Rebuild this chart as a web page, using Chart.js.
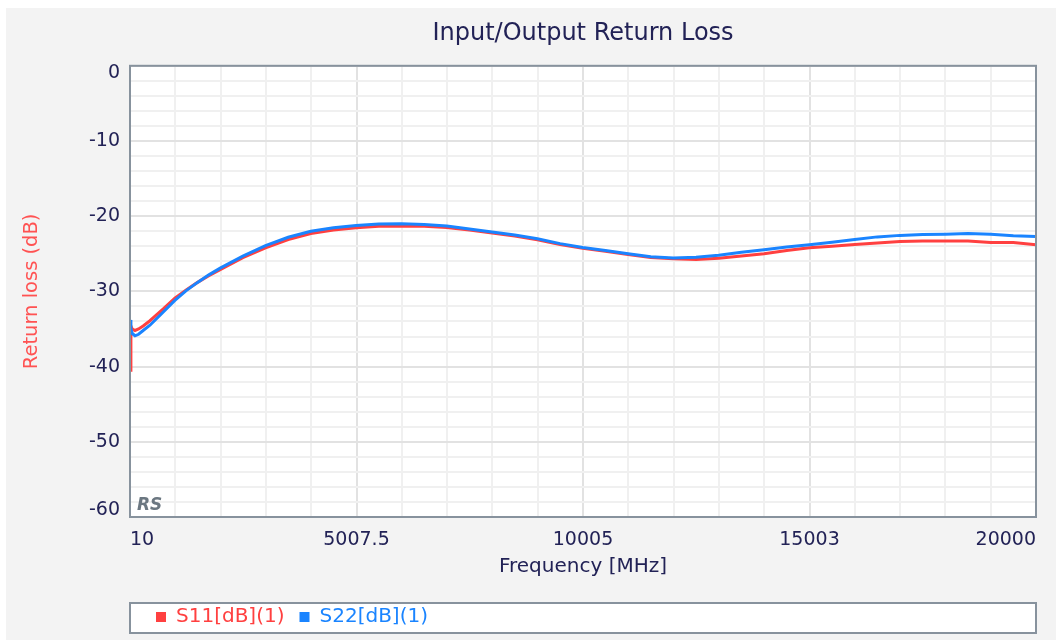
<!DOCTYPE html>
<html><head><meta charset="utf-8">
<script src="https://cdn.jsdelivr.net/npm/chart.js@4/dist/chart.umd.min.js"></script>
<style>
html,body{margin:0;padding:0;background:#ffffff;}
#wrap{width:1056px;height:640px;position:relative;}
</style></head><body>
<div id="wrap"><canvas id="c"></canvas></div>
<script>
const frequencies = [10, 30, 60, 120, 200, 300, 450, 600, 750, 1000, 1250, 1500, 1750, 2000, 2500, 3000, 3500, 4000, 4500, 5000, 5500, 6000, 6500, 7000, 7500, 8000, 8500, 9000, 9500, 10000, 10500, 11000, 11500, 12000, 12500, 13000, 13500, 14000, 14500, 15000, 15500, 16000, 16500, 17000, 17500, 18000, 18500, 19000, 19500, 20000];
const s11 = [-40.5, -34.6, -35.0, -35.2, -35.0, -34.6, -33.9, -33.1, -32.3, -30.9, -29.8, -28.8, -27.9, -27.1, -25.5, -24.2, -23.1, -22.3, -21.85, -21.55, -21.35, -21.3, -21.35, -21.5, -21.85, -22.25, -22.65, -23.15, -23.75, -24.25, -24.65, -25.1, -25.5, -25.65, -25.75, -25.6, -25.3, -25.0, -24.55, -24.2, -24.0, -23.75, -23.55, -23.35, -23.3, -23.3, -23.3, -23.5, -23.5, -23.8];
const s22 = [-33.8, -35.0, -35.6, -35.9, -35.7, -35.2, -34.5, -33.6, -32.7, -31.2, -29.9, -28.8, -27.8, -26.9, -25.3, -23.9, -22.8, -22.0, -21.55, -21.25, -21.05, -21.0, -21.1, -21.3, -21.7, -22.1, -22.5, -23.0, -23.65, -24.15, -24.55, -25.0, -25.4, -25.55, -25.45, -25.2, -24.8, -24.45, -24.1, -23.8, -23.45, -23.1, -22.75, -22.55, -22.45, -22.4, -22.3, -22.4, -22.6, -22.7];
const seriesNames = ['S11[dB](1)', 'S22[dB](1)'];
const xMajorTicks = [10, 5007.5, 10005, 15002.5, 20000];
const xTickLabels = ['10', '5007.5', '10005', '15003', '20000'];
const xMinorDivisions = 5;
const yMin = -60, yMax = 0, yMinorStep = 2, yMajorStep = 10;

const RED = '#ff4040', BLUE = '#1a84ff';
const TXT = '#222256';
const GRID_MINOR = '#f0f0f0', GRID_MAJOR = '#e2e2e2';
const FRAME = '#87929d';
const PANEL = '#f3f3f3';
const FONT = "'DejaVu Sans', Verdana, sans-serif";

const framePlugin = {
  id: 'framePlugin',
  afterLayout(chart) {
    const a = chart.chartArea;
    if (chart.titleBlock) { chart.titleBlock.left = a.left; chart.titleBlock.right = a.right; chart.titleBlock.width = a.right - a.left; }
    if (chart.legend) { chart.legend.left = a.left + 11; chart.legend.right = a.right; chart.legend.width = a.right - a.left - 11; }
  },
  beforeDraw(chart) {
    const {ctx, chartArea: a, width, height} = chart;
    const lg = chart.legend;
    ctx.save();
    ctx.fillStyle = PANEL;
    ctx.fillRect(6, 8, width - 6, height - 8);
    ctx.fillStyle = '#ffffff';
    ctx.fillRect(a.left, a.top, a.right - a.left, a.bottom - a.top);
    ctx.fillRect(a.left, lg.top + 11, a.right - a.left, (lg.bottom - 4) - (lg.top + 11));
    ctx.restore();
  },
  afterDraw(chart) {
    const {ctx, chartArea: a} = chart;
    const lg = chart.legend;
    ctx.save();
    ctx.strokeStyle = FRAME;
    ctx.lineWidth = 2;
    ctx.strokeRect(a.left, a.top, a.right - a.left, a.bottom - a.top);
    ctx.strokeRect(a.left, lg.top + 11, a.right - a.left, (lg.bottom - 4) - (lg.top + 11));
    ctx.fillStyle = '#6b7781';
    ctx.font = "italic bold 17px " + FONT;
    ctx.textBaseline = 'alphabetic';
    ctx.textAlign = 'left';
    ctx.fillText('RS', a.left + 7, a.bottom - 7);
    ctx.restore();
  }
};

new Chart(document.getElementById('c'), {
  type: 'line',
  data: {
    datasets: [
      { label: seriesNames[0], data: frequencies.map((f, i) => ({x: f, y: s11[i]})), borderColor: RED, backgroundColor: RED, borderWidth: 3, pointRadius: 0, tension: 0, order: 1 },
      { label: seriesNames[1], data: frequencies.map((f, i) => ({x: f, y: s22[i]})), borderColor: BLUE, backgroundColor: BLUE, borderWidth: 3, pointRadius: 0, tension: 0, order: 0 }
    ]
  },
  options: {
    responsive: true,
    maintainAspectRatio: false,
    animation: false,
    events: [],
    layout: { padding: { left: 0, right: 20, top: 0, bottom: 3 } },
    plugins: {
      tooltip: { enabled: false },
      title: {
        display: true, text: 'Input/Output Return Loss', color: TXT,
        font: { family: FONT, size: 24, weight: 'normal' },
        padding: { top: 19, bottom: 18 }
      },
      legend: {
        display: true, position: 'bottom', align: 'start',
        labels: {
          font: { family: FONT, size: 20 },
          boxWidth: 10, boxHeight: 10, padding: 15,
          generateLabels(chart) {
            return chart.data.datasets.map((ds, i) => ({
              text: ds.label, fillStyle: ds.borderColor, strokeStyle: ds.borderColor,
              lineWidth: 0, fontColor: ds.borderColor, hidden: false, datasetIndex: i
            }));
          }
        }
      }
    },
    scales: {
      x: {
        type: 'linear', min: xMajorTicks[0], max: xMajorTicks[xMajorTicks.length - 1],
        afterBuildTicks(scale) {
          const t = [];
          for (let i = 0; i < xMajorTicks.length - 1; i++) {
            const a = xMajorTicks[i], b = xMajorTicks[i + 1];
            for (let k = 0; k < xMinorDivisions; k++) t.push({ value: a + (b - a) * k / xMinorDivisions });
          }
          t.push({ value: xMajorTicks[xMajorTicks.length - 1] });
          scale.ticks = t;
        },
        afterFit(scale) { scale.height = 75; },
        border: { display: false },
        grid: {
          drawTicks: false, lineWidth: 2,
          color: (c) => (c.index % xMinorDivisions === 0 ? GRID_MAJOR : GRID_MINOR)
        },
        ticks: {
          autoSkip: false, maxRotation: 0, minRotation: 0, align: 'inner', padding: 12,
          color: TXT, font: { family: FONT, size: 19 },
          callback: (v, i) => (i % xMinorDivisions === 0 ? xTickLabels[i / xMinorDivisions] : '')
        },
        title: {
          display: true, text: 'Frequency [MHz]', color: TXT,
          font: { family: FONT, size: 20 }, padding: { top: 0, bottom: 13 }
        }
      },
      y: {
        type: 'linear', min: yMin, max: yMax,
        afterBuildTicks(scale) {
          const t = [];
          for (let v = yMin; v <= yMax; v += yMinorStep) t.push({ value: v });
          scale.ticks = t;
        },
        afterFit(scale) { scale.width = 130; },
        border: { display: false },
        grid: {
          drawTicks: false, lineWidth: 2,
          color: (c) => (c.tick && c.tick.value % yMajorStep === 0 ? GRID_MAJOR : GRID_MINOR)
        },
        ticks: {
          autoSkip: false, padding: 10, color: TXT,
          font: { family: FONT, size: 19, lineHeight: 0.74 },
          callback: (v) => {
            if (v % yMajorStep !== 0) return '';
            if (v === yMax) return ['', String(v)];
            if (v === yMin) return [String(v), ''];
            return String(v);
          }
        },
        title: {
          display: true, text: 'Return loss (dB)', color: '#ff5252',
          font: { family: FONT, size: 19.5 }, padding: { top: 20, bottom: 0 }
        }
      }
    }
  },
  plugins: [framePlugin]
});
</script>
</body></html>
